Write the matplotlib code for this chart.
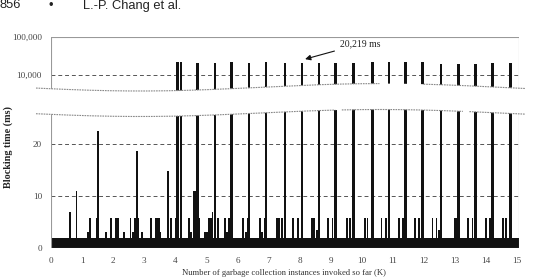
import numpy as np
import matplotlib
matplotlib.use("Agg")
from matplotlib import pyplot as plt
from matplotlib import transforms as mtransforms
from matplotlib.patches import Polygon

# long blocking times (ms), one per ~550 collections
long_k = [4.07, 4.19, 4.72, 5.28, 5.82, 6.37, 6.92, 7.53, 8.08, 8.63, 9.16,
          9.73, 10.34, 10.88, 11.42, 11.95, 12.55, 13.11, 13.67, 14.22, 14.80]
long_ms = [22300, 21400, 21000, 21000, 21400, 21000, 21400, 20200, 20219, 20200, 20200,
           20200, 21400, 21400, 21400, 21400, 19000, 19400, 19000, 20200, 20200]

# shorter blocking times (ms)
short_k = [0.62, 0.82, 1.19, 1.26, 1.47, 1.51, 1.77, 1.93, 2.08, 2.13, 2.17, 2.36,
           2.56, 2.65, 2.71, 2.76, 2.81, 2.92, 3.22, 3.37, 3.42, 3.47, 3.52, 3.76,
           3.85, 4.01, 4.43, 4.51, 4.59, 4.63, 4.77, 4.96, 5.03, 5.10, 5.15, 5.20,
           5.38, 5.60, 5.67, 5.74, 6.19, 6.27, 6.33, 6.73, 6.79, 6.89, 7.27, 7.33,
           7.43, 7.78, 7.94, 8.39, 8.47, 8.55, 8.92, 9.06, 9.53, 9.62, 10.11, 10.19,
           10.64, 10.78, 11.21, 11.34, 11.73, 11.85, 12.28, 12.41, 12.50, 13.00, 13.05,
           13.10, 13.43, 13.57, 14.00, 14.13, 14.54, 14.65]
short_ms = [7.0, 11.0, 3.2, 5.8, 5.8, 22.5, 3.2, 5.8, 5.8, 5.8, 5.8, 3.2,
            5.8, 3.2, 5.8, 18.7, 5.8, 3.2, 5.8, 5.8, 5.8, 5.8, 3.2, 14.9,
            5.8, 5.8, 5.8, 3.2, 11.0, 11.0, 5.8, 3.2, 3.2, 5.8, 5.8, 7.0,
            5.8, 5.8, 3.2, 5.8, 5.8, 3.2, 5.8, 5.8, 3.2, 5.8, 5.8, 5.8,
            5.8, 5.8, 5.8, 5.8, 5.8, 3.5, 5.8, 5.8, 5.8, 5.8, 5.8, 5.8,
            5.8, 5.8, 5.8, 5.8, 5.8, 5.8, 5.8, 5.8, 3.5, 5.8, 5.8,
            5.8, 5.8, 5.8, 5.8, 5.8, 5.8, 5.8]

base_ms = 1.9        # most collections block about 2 ms
x_ticks = list(range(0, 16))
top_ticks = [10000, 100000]
top_labels = ["10,000", "100,000"]
bot_ticks = [0, 10, 20]

W, H = 536, 278
serif = ["Liberation Serif", "DejaVu Serif"]
bar_col = "#111111"
frame_col = "#999999"
grid_col = "#555555"
lab_col = "#444444"

fig = plt.figure(figsize=(W / 100, H / 100), dpi=100)
# transform in pixels measured from the top left corner
px = mtransforms.Affine2D().scale(1, -1).translate(0, H).scale(1 / W, 1 / H) + fig.transFigure


def fig_box(left, top, right, bottom):
    return [left / W, (H - bottom) / H, (right - left) / W, (bottom - top) / H]


ax_top = fig.add_axes(fig_box(51, 36.7, 518.5, 92.5))
ax_bot = fig.add_axes(fig_box(51, 107.9, 518.5, 248.3))

# broken-axis wave shapes (pixel coords)
xs = np.linspace(36, 525, 300)
top_wave = 87.3 + 3.7 * np.cos(2 * np.pi * (xs - 140) / 480)
bot_wave = 113.0 + 3.5 * np.cos(2 * np.pi * (xs - 140) / 480)

clip_top = Polygon(np.vstack([np.column_stack([xs, top_wave]), [[525, 20], [36, 20]]]),
                   closed=True, transform=px, facecolor="none", edgecolor="none")
clip_bot = Polygon(np.vstack([np.column_stack([xs, bot_wave]), [[525, 270], [36, 270]]]),
                   closed=True, transform=px, facecolor="none", edgecolor="none")

# top panel (log)
ax_top.set_yscale("log")
bars = ax_top.bar(long_k, long_ms, width=0.085, color=bar_col, linewidth=0)
for b in bars:
    b.set_clip_path(clip_top)
ax_top.axhline(10000, color=grid_col, lw=0.7, ls=(0, (4, 3)), zorder=0)
ax_top.set_ylim(3500, 100000)
ax_top.set_xlim(0, 15.05)
ax_top.set_yticks(top_ticks)
ax_top.set_yticklabels(top_labels)
ax_top.minorticks_off()
ax_top.set_xticks([])
ax_top.spines["bottom"].set_visible(False)
for s in ["left", "top", "right"]:
    ax_top.spines[s].set_color(frame_col)
    ax_top.spines[s].set_linewidth(0.8)
    ax_top.spines[s].set_clip_path(clip_top)

# bottom panel (linear)
ax_bot.bar([0], [base_ms], width=15.05, align="edge", color=bar_col, linewidth=0)
sb = ax_bot.bar(short_k, short_ms, width=0.06, color=bar_col, linewidth=0)
lb = ax_bot.bar(long_k, long_ms, width=0.085, color=bar_col, linewidth=0)
for b in list(sb) + list(lb):
    b.set_clip_path(clip_bot)
for v in [10, 20]:
    ax_bot.axhline(v, color=grid_col, lw=0.7, ls=(0, (4, 3)), zorder=0)
ax_bot.set_ylim(0, 27)
ax_bot.set_xlim(0, 15.05)
ax_bot.set_yticks(bot_ticks)
ax_bot.set_xticks(x_ticks)
ax_bot.spines["top"].set_visible(False)
for s in ["left", "right", "bottom"]:
    ax_bot.spines[s].set_color(frame_col)
    ax_bot.spines[s].set_linewidth(0.8)
    ax_bot.spines[s].set_clip_path(clip_bot)

for ax in (ax_top, ax_bot):
    ax.tick_params(length=0, pad=6.5, labelsize=6.6, labelcolor=lab_col)
    for t in ax.get_xticklabels() + ax.get_yticklabels():
        t.set_family(serif)

# wave lines, with the breaks seen in the scan
tw = top_wave.copy()
tw[(xs > 381) & (xs < 422)] = np.nan
bw = bot_wave.copy()
bw[((xs > 336) & (xs < 341)) | ((xs > 463) & (xs < 468))] = np.nan
fig.add_artist(plt.Line2D(xs, tw, transform=px, color="#888888", lw=0.8, ls=(0, (1.5, 0.8))))
fig.add_artist(plt.Line2D(xs, bw, transform=px, color="#888888", lw=0.8, ls=(0, (1.5, 0.8))))

# annotation of the long pause
ax_top.annotate("20,219 ms", xy=(8.18, 26000), xytext=(9.30, 64500),
                ha="left", va="center", fontsize=7, family=serif, color="#222222",
                arrowprops=dict(arrowstyle="-|>", color="#111111", lw=0.8,
                                mutation_scale=8, shrinkA=2, shrinkB=0))

# axis titles
fig.text(8 / W, (H - 147.5) / H, "Blocking time (ms)", rotation=90, ha="center", va="center",
         fontsize=7.3, fontweight="bold", family=serif, color="#222222")
fig.text(284 / W, 1.0 / H, "Number of garbage collection instances invoked so far (K)",
         ha="center", va="bottom", fontsize=6.2, family=serif, color="#333333")

# page header
sans = ["Liberation Sans", "DejaVu Sans"]
fig.text(0, (H - 5.5) / H, "856", ha="left", va="center", fontsize=9.3, family=sans, color="#222222")
fig.text(51 / W, (H - 5.5) / H, "\u2022", ha="center", va="center", fontsize=9.3, family=sans, color="#222222")
fig.text(83 / W, (H - 5.5) / H, "L.-P. Chang et al.", ha="left", va="center", fontsize=9.3,
         family=sans, color="#222222")

fig.savefig("out.png", dpi=100)
